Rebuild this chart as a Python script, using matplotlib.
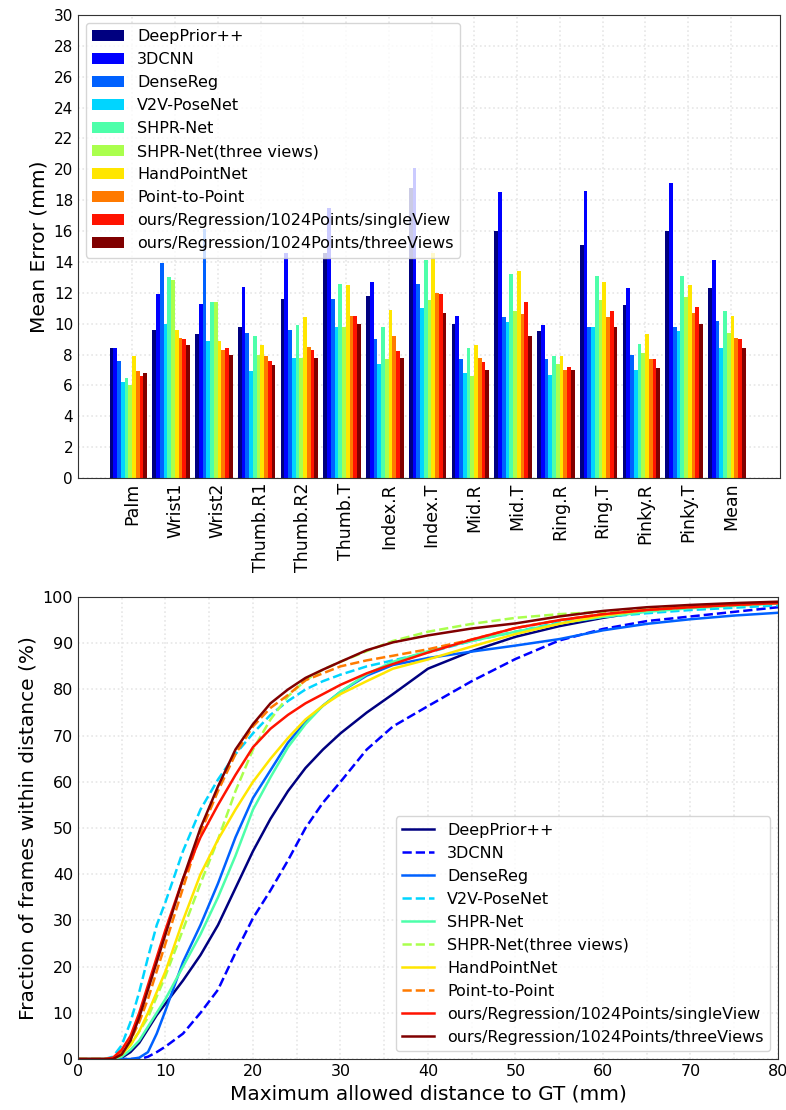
import numpy as np
import matplotlib
matplotlib.use("Agg")
import matplotlib.pyplot as plt
from matplotlib.ticker import MultipleLocator

methods = ["DeepPrior++", "3DCNN", "DenseReg", "V2V-PoseNet", "SHPR-Net",
           "SHPR-Net(three views)", "HandPointNet", "Point-to-Point",
           "ours/Regression/1024Points/singleView",
           "ours/Regression/1024Points/threeViews"]

joints = ["Palm", "Wrist1", "Wrist2", "Thumb.R1", "Thumb.R2", "Thumb.T",
          "Index.R", "Index.T", "Mid.R", "Mid.T", "Ring.R", "Ring.T",
          "Pinky.R", "Pinky.T", "Mean"]

# mean error per joint (mm), one list per method
err_deepprior = [8.4, 9.6, 9.3, 9.8, 11.6, 14.6, 11.8, 18.8, 10.0, 16.0, 9.5, 15.1, 11.2, 16.0, 12.3]
err_3dcnn = [8.4, 11.9, 11.3, 12.4, 14.6, 17.5, 12.7, 20.1, 10.5, 18.5, 9.9, 18.6, 12.3, 19.1, 14.1]
err_densereg = [7.6, 13.9, 16.1, 9.4, 9.6, 11.6, 9.0, 12.6, 7.7, 10.4, 7.7, 9.8, 8.0, 9.8, 10.2]
err_v2v = [6.2, 10.0, 8.9, 6.9, 7.8, 9.8, 7.4, 11.0, 6.8, 10.1, 6.7, 9.8, 7.0, 9.5, 8.4]
err_shpr = [6.5, 13.0, 11.4, 9.2, 9.9, 12.6, 9.8, 14.1, 8.4, 13.2, 7.9, 13.1, 8.7, 13.1, 10.8]
err_shpr3 = [6.0, 12.8, 11.4, 8.0, 7.8, 9.8, 7.7, 11.5, 6.6, 10.8, 7.4, 11.5, 8.1, 11.7, 9.4]
err_hpn = [7.9, 9.6, 8.9, 8.6, 10.4, 12.5, 10.9, 14.6, 8.6, 13.4, 7.9, 12.7, 9.3, 12.5, 10.5]
err_p2p = [6.9, 9.1, 8.3, 7.9, 8.5, 10.5, 9.2, 12.0, 7.8, 10.6, 7.0, 10.4, 7.7, 10.7, 9.1]
err_single = [6.6, 9.0, 8.4, 7.6, 8.3, 10.5, 8.2, 11.9, 7.5, 11.4, 7.2, 10.8, 7.7, 11.1, 9.0]
err_three = [6.8, 8.6, 8.0, 7.3, 7.8, 10.0, 7.8, 10.7, 7.0, 9.2, 7.0, 9.8, 7.1, 10.0, 8.4]

errors = [err_deepprior, err_3dcnn, err_densereg, err_v2v, err_shpr,
          err_shpr3, err_hpn, err_p2p, err_single, err_three]

# fraction of frames within distance (%)
dist = [0, 3, 4, 5, 6, 7, 8, 9, 10, 12, 14, 16, 18, 20, 22, 24, 26, 28, 30,
        33, 36, 40, 45, 50, 55, 60, 65, 70, 75, 80]
frac_deepprior = [0, 0, 0, 0.3, 1.5, 3.5, 6.5, 9.5, 12, 17, 22.5, 29, 37, 45, 52, 58,
                  63, 67, 70.5, 75, 79, 84.5, 88.3, 91.4, 93.7, 95.5, 97, 97.8, 98.3, 98.7]
frac_3dcnn = [0, 0, 0, 0, 0, 0, 0.5, 1.5, 2.7, 5.5, 10, 15, 23, 30.5, 36.5, 43,
              50, 55.5, 60, 67, 72, 76.4, 81.8, 86.6, 90.6, 93.1, 94.8, 95.8, 96.8, 97.8]
frac_densereg = [0, 0, 0, 0, 0, 0.3, 1.5, 5.5, 10.5, 21, 29, 38, 48, 56.5, 62.5, 68.5,
                 73, 76.5, 79.5, 83, 85.3, 86.8, 88.2, 89.5, 90.9, 92.8, 94.2, 95.2, 96.0, 96.6]
frac_v2v = [0, 0, 0.5, 3, 8, 14.5, 22, 29, 34, 45, 54, 60.5, 66, 70.5, 74.5, 77.5,
            80, 81.8, 83.2, 85, 86.3, 88, 90.5, 92.5, 94.5, 95.7, 96.5, 97.2, 97.7, 98.2]
frac_shpr = [0, 0, 0, 0.5, 2, 4, 7, 10, 13, 20, 27, 35, 44, 54, 61, 67.5,
             72.5, 76.5, 79.5, 83.3, 86, 88.3, 90.5, 92.5, 94.3, 95.7, 96.8, 97.6, 98.1, 98.6]
frac_shpr3 = [0, 0, 0, 1, 3, 6, 9, 13.5, 18, 28, 38, 47.5, 58, 67, 73.5, 78.5,
              82, 84.3, 86, 88.3, 90.5, 92.5, 94.2, 95.5, 96.3, 96.8, 97.4, 98, 98.4, 98.8]
frac_hpn = [0, 0, 0, 1, 3, 6, 10, 14.5, 19, 30, 40, 47.5, 54, 60, 65, 69.5,
            73.5, 76.5, 79, 81.8, 84.5, 86.5, 89.3, 92, 94.2, 96, 97.2, 98, 98.5, 98.9]
frac_p2p = [0, 0, 0, 1.5, 4, 8, 13, 19, 25, 37, 49, 58, 66, 72, 76, 78.8,
            82, 83.5, 85, 86.3, 87.3, 88.7, 90.8, 93.3, 95, 96.3, 97.2, 97.8, 98.3, 98.7]
frac_single = [0, 0, 0.3, 2, 5, 10, 16, 22, 28, 39, 48, 55, 61.5, 67.5, 71.5, 74.5,
               77, 79, 81, 83.5, 85.5, 88, 90.8, 93.3, 95, 96.3, 97.2, 97.8, 98.3, 98.7]
frac_three = [0, 0, 0, 1, 4, 9, 15, 21, 27, 39, 50, 59, 67, 72.5, 77, 80,
              82.5, 84.3, 86, 88.5, 90.2, 91.7, 93.2, 94.3, 95.8, 97, 97.8, 98.3, 98.7, 99]

fracs = [frac_deepprior, frac_3dcnn, frac_densereg, frac_v2v, frac_shpr,
         frac_shpr3, frac_hpn, frac_p2p, frac_single, frac_three]
styles = ["-", "--", "-", "--", "-", "--", "-", "--", "-", "-"]

colors = plt.cm.jet(np.linspace(0, 1, len(methods)))

plt.rcParams["font.family"] = "DejaVu Sans"

fig = plt.figure(figsize=(7.86, 11.1), dpi=100)
ax1 = fig.add_axes([0.0992, 0.5694, 0.8931, 0.4171])
ax2 = fig.add_axes([0.0992, 0.0459, 0.8906, 0.4162])

# --- per-joint bar chart ---
pos = np.arange(len(joints))
w = 0.088
for k, (name, vals) in enumerate(zip(methods, errors)):
    ax1.bar(pos + (k - 4.5) * w, vals, width=w, color=colors[k], label=name,
            linewidth=0)

ax1.set_xlim(-1.18, 15.24)
ax1.set_ylim(0, 30)
ax1.set_yticks(np.arange(0, 31, 2))
ax1.set_xticks(pos + 0.09)
ax1.set_xticklabels(joints, rotation=90, fontsize=12.5)
ax1.set_ylabel("Mean Error (mm)", fontsize=14.5)
ax1.tick_params(axis="y", labelsize=11)
ax1.tick_params(length=0)
ax1.grid(True, color="0.9", linestyle=":", linewidth=1.2)
ax1.set_axisbelow(True)
ax1.legend(loc="upper left", fontsize=11.5, framealpha=0.8, edgecolor="0.8")

# --- cumulative curves ---
for k, (name, vals) in enumerate(zip(methods, fracs)):
    ax2.plot(dist, vals, linestyle=styles[k], color=colors[k], linewidth=1.8,
             label=name)

ax2.set_xlim(0, 80)
ax2.set_ylim(0, 100)
ax2.set_xticks(np.arange(0, 81, 10))
ax2.set_yticks(np.arange(0, 101, 10))
ax2.xaxis.set_minor_locator(MultipleLocator(5))
ax2.set_xlabel("Maximum allowed distance to GT (mm)", fontsize=14.5)
ax2.set_ylabel("Fraction of frames within distance (%)", fontsize=14.5)
ax2.tick_params(which="both", length=0, labelsize=11.5)
ax2.grid(True, which="both", color="0.9", linestyle=":", linewidth=1.2)
ax2.set_axisbelow(True)
ax2.legend(loc="lower right", fontsize=11.5, framealpha=0.8, edgecolor="0.8")

for ax in (ax1, ax2):
    for s in ax.spines.values():
        s.set_color("0.2")

fig.savefig("out.png", dpi=100)
